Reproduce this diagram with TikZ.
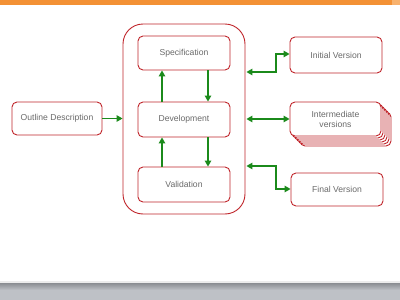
\documentclass[tikz,border=0pt]{standalone}
\usepackage{fontspec}
\setmainfont{Liberation Sans}
\usetikzlibrary{arrows.meta}
\definecolor{boxred}{HTML}{C0252B}
\definecolor{arrgreen}{HTML}{1B8A1B}
\definecolor{txtgray}{HTML}{6A6A6A}
\definecolor{topor}{HTML}{F39135}
\definecolor{topor2}{HTML}{F8B26E}
\definecolor{botdark}{HTML}{8A8D92}
\definecolor{botlight}{HTML}{BEC1C6}
\tikzset{
  rbox/.style={draw=boxred, line width=0.9pt, fill=white, rounded corners=5pt, text=txtgray, font=\fontsize{8.6}{10}\selectfont, align=center, inner sep=0pt},
  garr/.style={draw=arrgreen, line width=1.2pt, -{Triangle[length=6pt,width=6.5pt]}},
  garr2/.style={draw=arrgreen, line width=1.2pt, {Triangle[length=6pt,width=6.5pt]}-{Triangle[length=6pt,width=6.5pt]}}
}
\begin{document}
\begin{tikzpicture}[x=1pt,y=-1pt]
\useasboundingbox (0,0) rectangle (400,300);
\fill[white] (0,0) rectangle (400,300);
% top bar
\fill[topor] (0,0) rectangle (392,5);
\fill[topor2] (392,0) rectangle (400,5);
% bottom bar
\fill[white!85!gray] (0,281) rectangle (400,283);
\shade[top color=botdark, bottom color=botlight] (0,283) rectangle (400,290);
\fill[botlight] (0,290) rectangle (400,300);
% outer container
\node[draw=boxred, line width=0.9pt, rounded corners=20pt, minimum width=122pt, minimum height=190pt, inner sep=0pt] (outer) at (184,119) {};
% inner boxes
\node[rbox, minimum width=92pt, minimum height=34pt] (spec) at (184,53) {Specification};
\node[rbox, minimum width=92pt, minimum height=35pt] (dev) at (184,119.5) {Development};
\node[rbox, minimum width=92pt, minimum height=35pt] (val) at (184,184.5) {Validation};
\node[rbox, minimum width=90pt, minimum height=33pt] (outline) at (57,118.5) {Outline Description};
% right boxes
\node[rbox, minimum width=92pt, minimum height=36pt] (init) at (336,55) {Initial Version};
\foreach \k in {5,4,3,2,1}{
  \draw[draw=boxred, line width=0.9pt, fill=white, rounded corners=5pt] (290+2*\k,102+2*\k) rectangle (381+2*\k,136+2*\k);
}
\node[rbox, minimum width=91pt, minimum height=34pt] (inter) at (335.5,119) {Intermediate\\versions};
\node[rbox, minimum width=92pt, minimum height=33pt] (final) at (337,189.5) {Final Version};
% arrows inside
\draw[garr] (outline.east) -- (outer.west |- outline.east);
\draw[garr] (dev.north -| 162,0) -- (spec.south -| 162,0);
\draw[garr] (spec.south -| 208,0) -- (dev.north -| 208,0);
\draw[garr] (val.north -| 162,0) -- (dev.south -| 162,0);
\draw[garr] (dev.south -| 208,0) -- (val.north -| 208,0);
% right arrows
\draw[garr2] ([xshift=1pt]outer.east |- 0,72) -| (276,54) -- (init.west |- 0,54);
\draw[garr2] ([xshift=1pt]outer.east |- 0,119) -- (inter.west |- 0,119);
\draw[garr2] ([xshift=1pt]outer.east |- 0,166) -| (276,189) -- (final.west |- 0,189);
\end{tikzpicture}
\end{document}
